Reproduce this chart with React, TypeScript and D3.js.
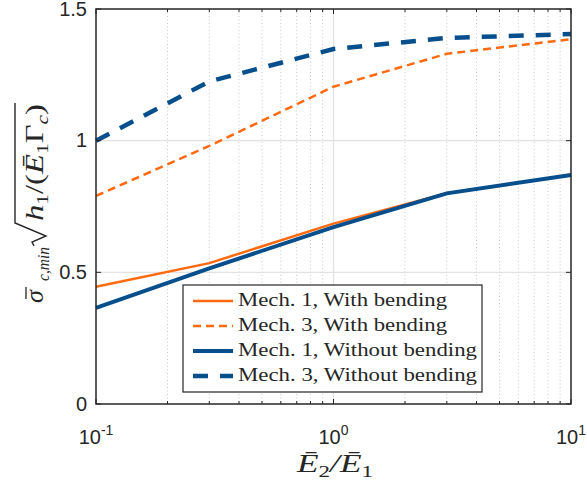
import React, { useRef, useEffect } from 'react';
import * as d3 from 'd3';

// stiffness ratio E2/E1 (log axis)
const ratios = [0.1, 0.3, 1, 3, 10];
const mech1Bend = [0.445, 0.535, 0.685, 0.8, 0.87];
const mech3Bend = [0.79, 0.98, 1.205, 1.33, 1.385];
const mech1NoBend = [0.365, 0.515, 0.672, 0.8, 0.87];
const mech3NoBend = [1.0, 1.225, 1.348, 1.39, 1.405];

const seriesNames = [
  'Mech. 1, With bending',
  'Mech. 3, With bending',
  'Mech. 1, Without bending',
  'Mech. 3, Without bending',
];
const yTicks = [0, 0.5, 1, 1.5];
const xTicks = [0.1, 1, 10];
const xTickExp = ['-1', '0', '1'];

const ORANGE = '#ff6a10';
const BLUE = '#064f8c';
const AXIS = '#262626';

const App = () => {
  const svgRef = useRef(null);
  const width = 587;
  const height = 486;
  const margin = { left: 96, right: 16, top: 9, bottom: 82 };

  useEffect(() => {
    const w = width - margin.left - margin.right;
    const h = height - margin.top - margin.bottom;

    const svgEl = d3.select(svgRef.current);
    svgEl.selectAll('*').remove();
    svgEl.append('rect').attr('width', width).attr('height', height).attr('fill', 'white');
    const svg = svgEl.append('g').attr('transform', `translate(${margin.left},${margin.top})`);

    const x = d3.scaleLog().domain([0.1, 10]).range([0, w]);
    const y = d3.scaleLinear().domain([0, 1.5]).range([h, 0]);

    const minorX: number[] = [];
    [0.1, 1].forEach((dec) => {
      for (let k = 2; k <= 9; k++) minorX.push(dec * k);
    });

    // grid
    svg.selectAll('.gminor').data(minorX).enter().append('line')
      .attr('x1', (d) => x(d)).attr('x2', (d) => x(d))
      .attr('y1', 0).attr('y2', h)
      .attr('stroke', '#c8c8c8').attr('stroke-width', 1)
      .attr('stroke-dasharray', '1,2.5');
    svg.append('line')
      .attr('x1', x(1)).attr('x2', x(1)).attr('y1', 0).attr('y2', h)
      .attr('stroke', '#e2e2e2').attr('stroke-width', 1.3);
    svg.selectAll('.gy').data([0.5, 1]).enter().append('line')
      .attr('x1', 0).attr('x2', w)
      .attr('y1', (d) => y(d)).attr('y2', (d) => y(d))
      .attr('stroke', '#e2e2e2').attr('stroke-width', 1.3);

    // series
    const series = [
      { vals: mech1Bend, color: ORANGE, sw: 2.5, dash: null },
      { vals: mech3Bend, color: ORANGE, sw: 2.5, dash: '8,5' },
      { vals: mech1NoBend, color: BLUE, sw: 4, dash: null },
      { vals: mech3NoBend, color: BLUE, sw: 4.5, dash: '15,12' },
    ];
    const line = d3.line<number>()
      .x((d, i) => x(ratios[i]))
      .y((d) => y(d));
    series.forEach((s) => {
      svg.append('path')
        .attr('d', line(s.vals))
        .attr('fill', 'none')
        .attr('stroke', s.color)
        .attr('stroke-width', s.sw)
        .attr('stroke-dasharray', s.dash);
    });

    // box + ticks
    svg.append('rect').attr('width', w).attr('height', h)
      .attr('fill', 'none').attr('stroke', AXIS).attr('stroke-width', 1.5);
    const tickX = (vals: number[], len: number) => {
      vals.forEach((v) => {
        svg.append('line').attr('x1', x(v)).attr('x2', x(v)).attr('y1', h).attr('y2', h - len)
          .attr('stroke', AXIS).attr('stroke-width', 1);
        svg.append('line').attr('x1', x(v)).attr('x2', x(v)).attr('y1', 0).attr('y2', len)
          .attr('stroke', AXIS).attr('stroke-width', 1);
      });
    };
    tickX(xTicks, 5);
    tickX(minorX, 3);
    yTicks.forEach((v) => {
      svg.append('line').attr('x1', 0).attr('x2', 5).attr('y1', y(v)).attr('y2', y(v))
        .attr('stroke', AXIS).attr('stroke-width', 1);
      svg.append('line').attr('x1', w).attr('x2', w - 5).attr('y1', y(v)).attr('y2', y(v))
        .attr('stroke', AXIS).attr('stroke-width', 1);
    });

    // tick labels
    svg.selectAll('.ylab').data(yTicks).enter().append('text')
      .attr('x', -9).attr('y', (d) => y(d) + 6.5)
      .attr('text-anchor', 'end')
      .attr('font-family', 'Liberation Sans, Arial, sans-serif')
      .attr('font-size', 20).attr('fill', AXIS)
      .text((d) => `${d}`);
    xTicks.forEach((v, i) => {
      const t = svg.append('text')
        .attr('x', x(v)).attr('y', h + 40)
        .attr('text-anchor', 'middle')
        .attr('font-family', 'Liberation Sans, Arial, sans-serif')
        .attr('font-size', 20).attr('fill', AXIS);
      t.append('tspan').text('10');
      t.append('tspan').attr('dy', -9).attr('font-size', 14).text(xTickExp[i]);
    });

    // x label
    const serif = 'Liberation Serif, Times New Roman, serif';
    const xl = svgEl.append('text')
      .attr('x', 297).attr('y', 472)
      .attr('font-family', serif).attr('font-size', 26).attr('fill', AXIS)
      .attr('textLength', 76).attr('lengthAdjust', 'spacingAndGlyphs');
    xl.append('tspan').attr('font-style', 'italic').text('Ē');
    xl.append('tspan').attr('font-size', 17).attr('dy', 5).text('2');
    xl.append('tspan').attr('font-style', 'italic').attr('dy', -5).text('/');
    xl.append('tspan').attr('font-style', 'italic').text('Ē');
    xl.append('tspan').attr('font-size', 17).attr('dy', 5).text('1');

    // y label (rotated)
    const yl = svgEl.append('g').attr('transform', 'translate(43,303) rotate(-90)');
    yl.append('text').attr('x', 0).attr('y', 0)
      .attr('font-family', serif).attr('font-size', 26).attr('font-style', 'italic')
      .attr('fill', AXIS).text('σ');
    yl.append('line').attr('x1', 4).attr('x2', 16).attr('y1', -17).attr('y2', -17)
      .attr('stroke', AXIS).attr('stroke-width', 1.3);
    yl.append('text').attr('x', 22).attr('y', 6)
      .attr('font-family', serif).attr('font-size', 17).attr('font-style', 'italic')
      .attr('fill', AXIS).attr('textLength', 34).attr('lengthAdjust', 'spacingAndGlyphs')
      .text('c,min');
    yl.append('path')
      .attr('d', 'M57,-9 L61,-11 L67,3 L80,-28 L200,-28')
      .attr('fill', 'none').attr('stroke', AXIS).attr('stroke-width', 1.4);
    const t2 = yl.append('text').attr('x', 82).attr('y', 0)
      .attr('font-family', serif).attr('font-size', 26).attr('fill', AXIS)
      .attr('textLength', 117).attr('lengthAdjust', 'spacingAndGlyphs');
    t2.append('tspan').attr('font-style', 'italic').text('h');
    t2.append('tspan').attr('font-size', 17).attr('dy', 5).text('1');
    t2.append('tspan').attr('dy', -5).text('/(');
    t2.append('tspan').attr('font-style', 'italic').text('Ē');
    t2.append('tspan').attr('font-size', 17).attr('dy', 5).text('1');
    t2.append('tspan').attr('dy', -5).text('Γ');
    t2.append('tspan').attr('font-style', 'italic').attr('font-size', 17).attr('dy', 5).text('c');
    t2.append('tspan').attr('dy', -5).text(')');

    // legend
    const lg = svgEl.append('g').attr('transform', 'translate(183,285)');
    lg.append('rect').attr('width', 299).attr('height', 107)
      .attr('fill', 'white').attr('stroke', AXIS).attr('stroke-width', 1.2);
    const legendWidths = [209, 209, 239, 239];
    seriesNames.forEach((name, i) => {
      const ly = 16 + i * 25;
      const s = series[i];
      lg.append('line').attr('x1', 10).attr('x2', 50).attr('y1', ly).attr('y2', ly)
        .attr('stroke', s.color).attr('stroke-width', s.sw)
        .attr('stroke-dasharray', s.dash);
      lg.append('text').attr('x', 55).attr('y', ly + 5)
        .attr('font-family', serif).attr('font-size', 18).attr('fill', AXIS)
        .attr('textLength', legendWidths[i]).attr('lengthAdjust', 'spacingAndGlyphs')
        .text(name);
    });
  }, []);

  return (
    <svg ref={svgRef} width={width} height={height} style={{ position: 'absolute', left: 0, top: 0 }} />
  );
};

export default App;
